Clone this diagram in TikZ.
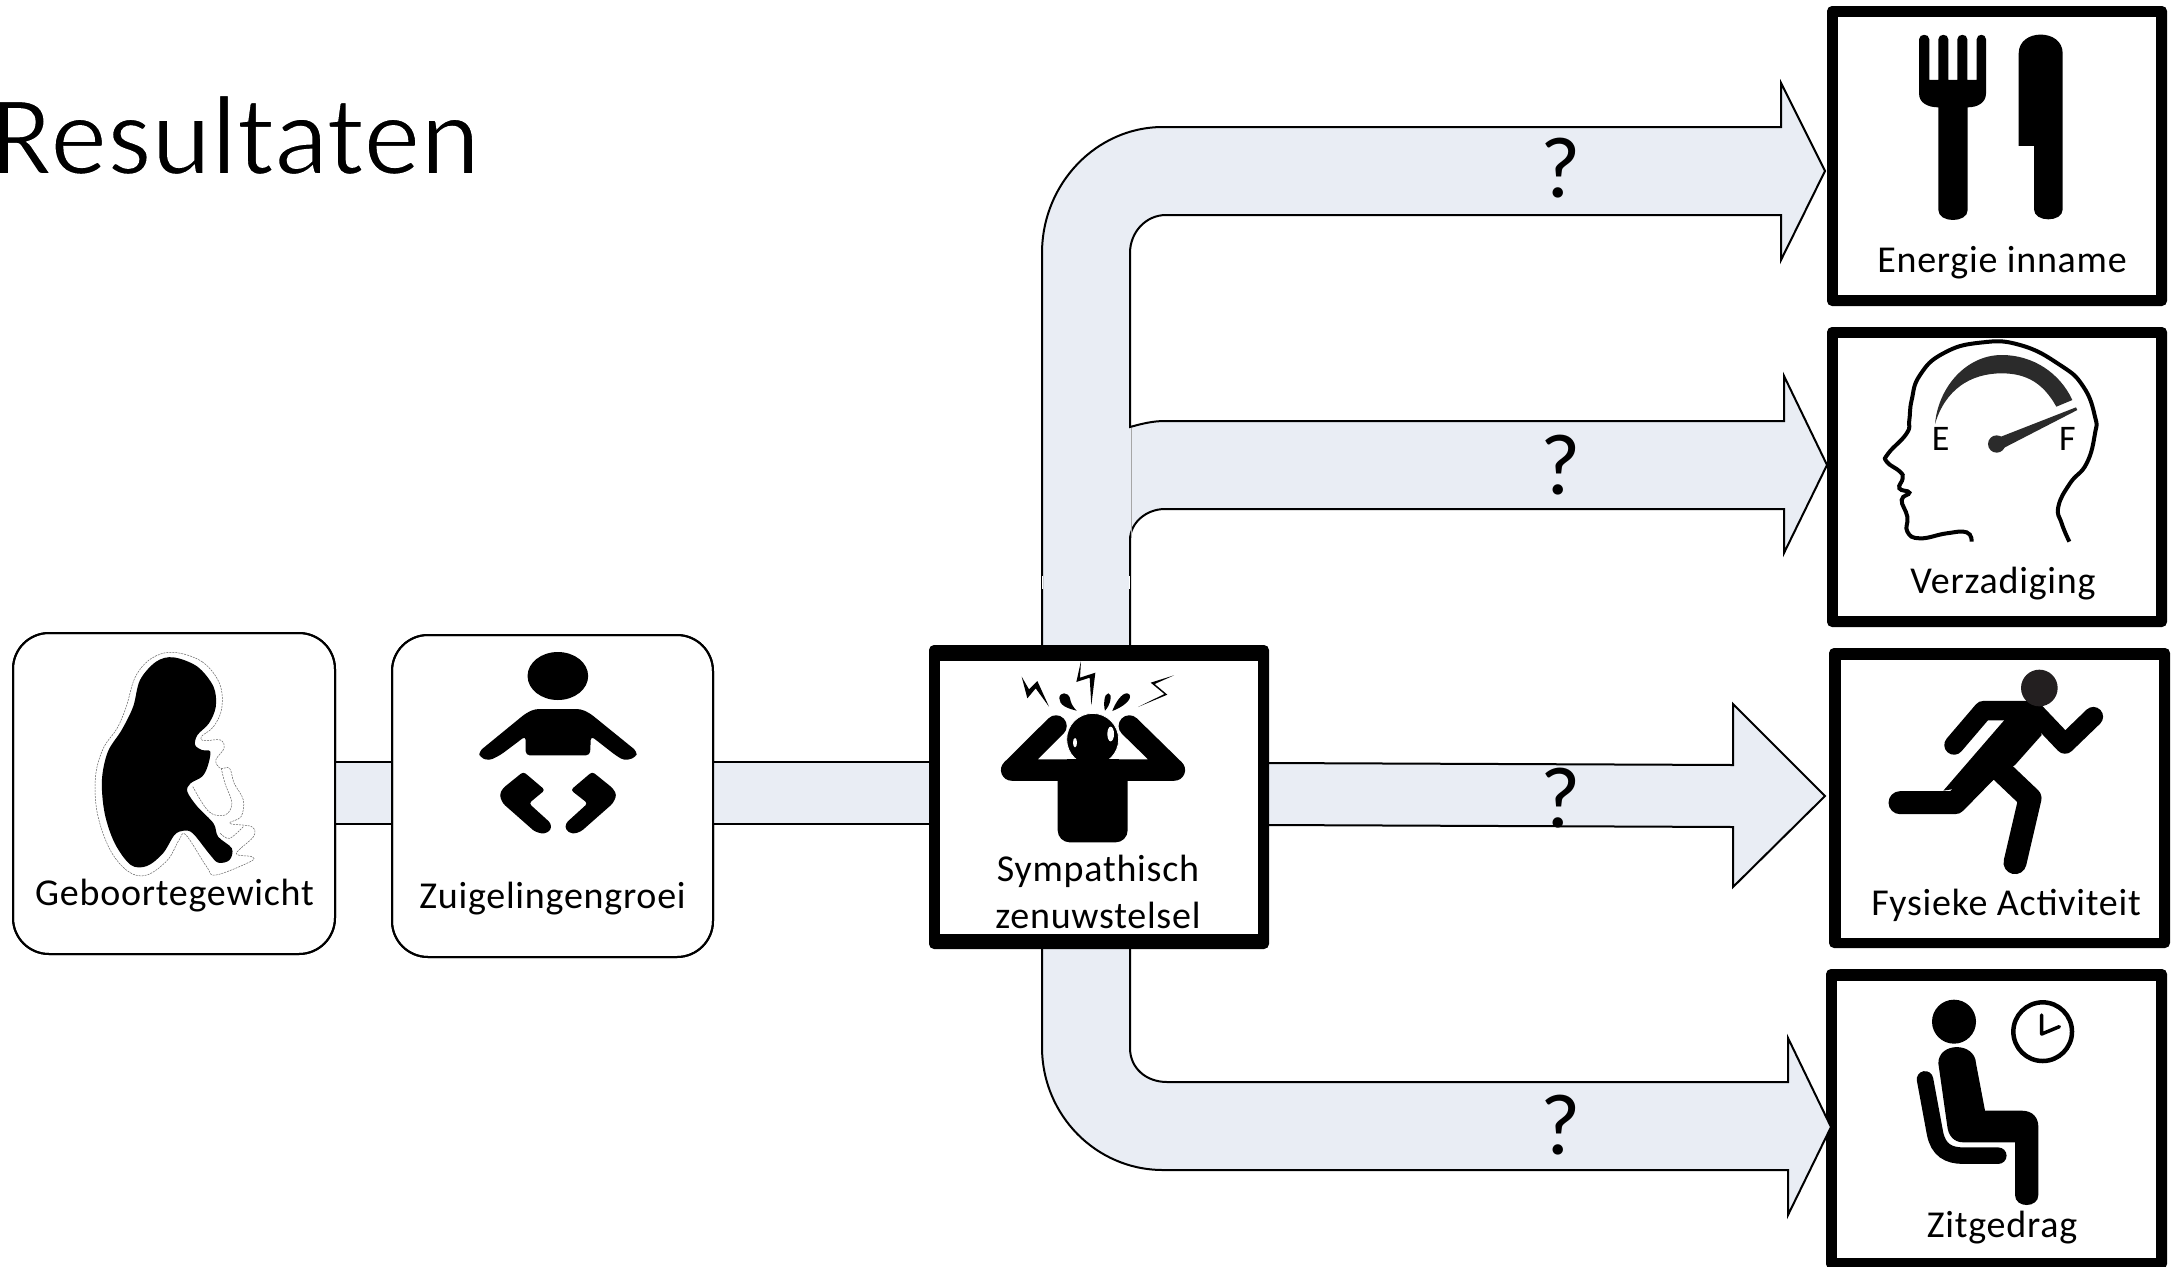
\documentclass[tikz,border=0pt]{standalone}
\usepackage{fontspec}
\setmainfont{Carlito}
\newfontfamily\lblfont[LetterSpace=2]{Carlito}
\usetikzlibrary{calc}
\definecolor{bandfill}{HTML}{E9EDF4}
\definecolor{gaugeblack}{HTML}{2B2B2B}
\definecolor{runhead}{HTML}{231F20}
\tikzset{
  softbox/.style={draw=black,line width=2pt,fill=white,rounded corners=36pt,inner sep=0pt,minimum width=#1},
  heavybox/.style={fill=black,rounded corners=5pt,inner sep=0pt,outer sep=0pt,minimum width=#1},
  lbl/.style={font=\lblfont\fontsize{38}{38}\selectfont,anchor=base,inner sep=0pt},
  qmark/.style={font=\fontsize{87}{87}\selectfont,anchor=base,inner sep=0pt},
  band/.style={fill=bandfill,draw=none},
  bandline/.style={draw=black,line width=2pt,line join=miter},
  halo/.style={draw=black!60,line width=0.5pt,dash pattern=on 2pt off 1pt},
}
\begin{document}
\begin{tikzpicture}[x=1pt,y=-1pt]
\clip (0,0) rectangle (2178,1266);
\useasboundingbox (0,0) rectangle (2178,1266);
\fill[white] (0,0) rectangle (2178,1266);

% title (thinned with a white outline to imitate the light weight)
\node[anchor=base east,inner sep=0pt,font=\fontsize{113.5}{113.5}\selectfont] (title) at (480,174) {\special{pdf:code q 2 Tr 1 1 1 RG 1.9 w}Resultaten\special{pdf:code Q}};

\coordinate (symW) at (929,797);
\coordinate (symE) at (1269,797);

% soft boxes and bands between them
\node[softbox=322pt,minimum height=321pt] (geb) at (174,793.5) {};
\node[softbox=321pt,minimum height=322pt] (zui) at (552.5,796) {};
\fill[band] (geb.east |- 0,762) rectangle (zui.west |- 0,824);
\draw[bandline] (geb.east |- 0,762) -- (zui.west |- 0,762) (geb.east |- 0,824) -- (zui.west |- 0,824);
\fill[band] (zui.east |- 0,762) rectangle (symW |- 0,824);
\draw[bandline] (zui.east |- 0,762) -- (symW |- 0,762) (zui.east |- 0,824) -- (symW |- 0,824);
\node[softbox=322pt,minimum height=321pt,fill=none] at (174,793.5) {};
\node[softbox=321pt,minimum height=322pt,fill=none] at (552.5,796) {};

% heavy boxes on the right
\node[heavybox=340pt,minimum height=300pt] (ene) at (1997,156) {};
\fill[white] (1838,17) rectangle (2156,295);
\node[heavybox=340pt,minimum height=300pt] (ver) at (1997,477) {};
\fill[white] (1838,338) rectangle (2156,616);
\node[heavybox=341pt,minimum height=300pt] (fys) at (1999.5,798) {};
\fill[white] (1841,660) rectangle (2159,937.5);
\node[heavybox=341pt,minimum height=300pt] (zit) at (1996.5,1119) {};
\fill[white] (1837,981) rectangle (2156,1258);

% arrows
\coordinate (tipA) at (1825,171);
\coordinate (tipB) at (1827,465);
\coordinate (tipC) at (1825,796);
\coordinate (tipD) at (1831,1127);
\fill[band] (1042,660) -- (1042,253) .. controls (1042,184) and (1096,127) .. (1163,127) -- (1781,127) -- (1781,83) -- (tipA) -- (1781,260) -- (1781,215) -- (1166,215) .. controls (1146,215) and (1130,232) .. (1130,253) -- (1130,427) .. controls (1141,424) and (1152,421) .. (1165,421) -- (1784,421) -- (1784,376) -- (tipB) -- (1784,553) -- (1784,509) -- (1165,509) .. controls (1146,509) and (1130,523) .. (1130,540) -- (1130,660) -- cycle;
\draw[bandline] (1042,660) -- (1042,253) .. controls (1042,184) and (1096,127) .. (1163,127) -- (1781,127) -- (1781,83) -- (tipA) -- (1781,260) -- (1781,215) -- (1166,215) .. controls (1146,215) and (1130,232) .. (1130,253) -- (1130,427) .. controls (1141,424) and (1152,421) .. (1165,421) -- (1784,421) -- (1784,376) -- (tipB) -- (1784,553) -- (1784,509) -- (1165,509) .. controls (1146,509) and (1130,523) .. (1130,540) -- (1130,660);
\draw[draw=black!35,line width=0.8pt] (1131,428) -- (1131,538);
\draw[white,line width=1.3pt] (1042.6,576) -- (1042.6,589) (1129.4,576) -- (1129.4,589);

\fill[band] (symE |- 0,763) -- (1733,765) -- (1733,704) -- (tipC) -- (1733,887) -- (1733,827) -- (symE |- 0,825) -- cycle;
\draw[bandline] (symE |- 0,763) -- (1733,765) -- (1733,704) -- (tipC) -- (1733,887) -- (1733,827) -- (symE |- 0,825);

\fill[band] (1042,930) -- (1042,1047) .. controls (1042,1115) and (1096,1170) .. (1163,1170) -- (1788,1170) -- (1788,1215) -- (tipD) -- (1788,1038) -- (1788,1082) -- (1167,1082) .. controls (1146,1082) and (1130,1068) .. (1130,1048) -- (1130,930) -- cycle;
\draw[bandline] (1042,930) -- (1042,1047) .. controls (1042,1115) and (1096,1170) .. (1163,1170) -- (1788,1170) -- (1788,1215) -- (tipD) -- (1788,1038) -- (1788,1082) -- (1167,1082) .. controls (1146,1082) and (1130,1068) .. (1130,1048) -- (1130,930);

% question marks
\node[qmark] (q1) at (1561,197) {?};
\node[qmark] (q2) at (1561,494) {?};
\node[qmark] (q3) at (1561,827) {?};
\node[qmark] (q4) at (1561,1154) {?};

% central heavy box
\node[heavybox=340pt,minimum height=304pt] (sym) at (1099,797) {};
\fill[white] (940,661) rectangle (1258,934);

% labels
\node[lbl] (lgeb) at (174.5,905) {Geboortegewicht};
\node[lbl] (lzui) at (552.5,908) {Zuigelingengroei};
\node[lbl] (lsy1) at (1098,881) {Sympathisch};
\node[lbl] (lsy2) at (1098,928) {zenuwstelsel};
\node[lbl] (lene) at (2002,272) {Energie inname};
\node[lbl] (lver) at (2003,593) {Verzadiging};
\node[lbl] (lfys) at (2006,915) {Fysieke Activiteit};
\node[lbl] (lzit) at (2002,1237) {Zitgedrag};

% fetus icon
\begin{scope}[shift={(0,620)},x=0.45914pt,y=-0.33333pt]
\draw[halo] plot[smooth cycle,tension=0.6] coordinates {(378,97)(440,125)(478,190)(483,265)(465,320)(438,350)(445,362)(480,360)(488,385)(470,420)(480,445)(500,445)(510,490)(530,540)(525,590)(500,610)(548,620)(552,650)(515,700)(548,710)(545,725)(470,765)(450,740)(405,645)(390,660)(365,720)(320,765)(280,755)(240,690)(212,580)(208,470)(225,385)(255,325)(275,260)(295,170)(330,115)};
\fill[black] plot[smooth cycle,tension=0.55] coordinates {(378,112)(430,140)(465,200)(470,260)(455,310)(430,345)(425,375)(440,390)(458,395)(452,440)(440,470)(415,490)(408,515)(430,560)(465,610)(475,650)(505,685)(500,720)(475,728)(455,700)(420,640)(400,632)(380,645)(355,700)(320,738)(285,735)(250,670)(228,580)(222,480)(235,395)(265,330)(290,260)(305,180)(340,125)};
\draw[halo] plot[smooth,tension=0.6] coordinates {(420,500)(455,575)(490,585)(505,550)(490,490)(482,445)};
\draw[halo] plot[smooth,tension=0.6] coordinates {(480,640)(500,655)(530,620)};
% baby icon
\fill[black] (1215,168) ellipse [x radius=66,y radius=72];
\fill[black,rounded corners=4pt] (1165,267) -- (1265,267) -- (1285,280) -- (1388,395) -- (1385,412) -- (1360,422) -- (1340,405) -- (1287,348) -- (1285,406) -- (1145,406) -- (1145,348) -- (1090,405) -- (1065,422) -- (1045,412) -- (1043,395) -- (1145,280) -- cycle;
\fill[black,rounded corners=3pt] (1140,455) -- (1187,510) -- (1152,550) -- (1200,610) -- (1200,630) -- (1185,642) -- (1165,635) -- (1095,550) -- (1088,525) -- (1095,505) -- cycle;
\fill[black,rounded corners=3pt] (1290,455) -- (1243,510) -- (1280,550) -- (1232,610) -- (1232,630) -- (1247,642) -- (1265,635) -- (1335,550) -- (1343,525) -- (1335,505) -- cycle;
\end{scope}

% stressed person
\begin{scope}[shift={(920,630)},x=0.33333pt,y=-0.33333pt]
\draw[black,line width=21.5pt,line cap=round,line join=round] (408,288) -- (275,420) -- (763,420) -- (628,288);
\fill[black,rounded corners=12pt] (413,400) rectangle (623,637);
\fill[black,draw=white,line width=0.8pt] (518,328) circle (78);
\fill[black] (440,388) rectangle (596,430);
\fill[white] (572,312) ellipse [x radius=10,y radius=22];
\fill[white] (465,338) ellipse [x radius=6,y radius=14];
\fill[black] (470,242) .. controls (440,235) and (418,225) .. (418,205) .. controls (418,185) and (445,185) .. (450,205) .. controls (452,220) and (460,232) .. (470,242) -- cycle;
\fill[black] (555,242) .. controls (550,225) and (552,190) .. (565,190) .. controls (578,190) and (572,225) .. (555,242) -- cycle;
\fill[black] (577,243) .. controls (585,220) and (605,188) .. (622,190) .. controls (640,195) and (630,222) .. (577,243) -- cycle;
\fill[black] (305,140) -- (327,178) -- (352,153) -- (387,230) -- (347,175) -- (322,205) -- cycle;
\fill[black] (483,93) -- (480,143) -- (526,128) -- (514,226) -- (509,143) -- (469,156) -- cycle;
\fill[black] (762,136) -- (692,158) -- (733,192) -- (654,231) -- (742,194) -- (704,162) -- cycle;
\end{scope}

% fork and knife
\begin{scope}[shift={(1820,0)},x=0.33333pt,y=-0.33333pt]
\fill[black] (297,280) -- (297,118) .. controls (297,100) and (328,100) .. (328,118) -- (328,240) -- (355,240) -- (355,118) .. controls (355,100) and (385,100) .. (385,118) -- (385,240) -- (412,240) -- (412,118) .. controls (412,100) and (442,100) .. (442,118) -- (442,240) -- (470,240) -- (470,118) .. controls (470,100) and (498,100) .. (498,118) -- (498,280) .. controls (498,310) and (470,322) .. (443,322) -- (443,630) .. controls (443,670) and (355,670) .. (355,630) -- (355,322) .. controls (325,322) and (297,310) .. (297,280) -- cycle;
\fill[black] (596,160) .. controls (596,85) and (728,85) .. (728,160) -- (728,628) .. controls (728,668) and (642,668) .. (642,628) -- (642,438) -- (596,438) -- cycle;
\end{scope}

% head with gauge
\begin{scope}[shift={(1820,320)},x=0.33333pt,y=-0.33333pt]
\draw[black,line width=4pt] plot[smooth,tension=0.8] coordinates {(455,665)(440,637)(380,640)(300,655)(262,635)(262,590)(245,540)(268,518)(238,505)(248,475)(240,455)(200,425)(205,400)(260,340)(268,300)(275,240)(300,165)(370,100)(480,68)(600,75)(720,135)(790,200)(825,290)(825,340)(800,430)(750,490)(715,560)(725,610)(748,665)};
\fill[gaugeblack] (345,312) .. controls (355,200) and (440,105) .. (545,105) .. controls (640,105) and (720,160) .. (757,240) -- (709,260) .. controls (670,190) and (620,160) .. (545,160) .. controls (450,160) and (375,210) .. (345,312) -- cycle;
\fill[gaugeblack] (530,372) circle (26);
\fill[gaugeblack] (530,355) -- (768,262) -- (772,270) -- (545,387) -- cycle;
\node[anchor=base,inner sep=0pt,font=\fontsize{36}{36}\selectfont] (gE) at (362,392) {E};
\node[anchor=base,inner sep=0pt,font=\fontsize{36}{36}\selectfont] (gF) at (742,392) {F};
\end{scope}

% runner
\begin{scope}[shift={(1820,640)},x=0.33333pt,y=-0.33333pt]
\draw[black,line width=19.5pt,line cap=round,line join=round] (402,315) -- (490,212) -- (640,212) -- (735,312) -- (820,230);
\draw[black,line width=23pt,line cap=round,line join=round] (240,488) -- (405,488) -- (540,350);
\draw[black,line width=23pt,line cap=round,line join=round] (530,380) -- (630,475) -- (585,668);
\fill[black] (555,238) -- (640,190) -- (665,285) -- (585,375) -- (505,430) -- (370,452) -- cycle;
\fill[runhead] (658,144) circle (55);
\end{scope}

% sitting person
\begin{scope}[shift={(1820,960)},x=0.33333pt,y=-0.33333pt]
\fill[black] (402,185) circle (66);
\fill[black] (355,310) .. controls (355,245) and (465,245) .. (468,310) -- (495,452) -- (605,452) .. controls (640,452) and (655,475) .. (655,500) -- (655,705) .. controls (655,745) and (585,745) .. (585,705) -- (585,547) -- (430,547) .. controls (400,547) and (385,525) .. (382,500) -- cycle;
\draw[black,line width=16.5pt,line cap=round] (315,358) -- (345,520) .. controls (355,570) and (385,587) .. (430,587) -- (535,587);
\draw[black,line width=4.5pt] (668,215) circle (88);
\draw[black,line width=3.5pt,line cap=round,line join=round] (665,165) -- (665,222) -- (718,200);
\end{scope}
\end{tikzpicture}
\end{document}
